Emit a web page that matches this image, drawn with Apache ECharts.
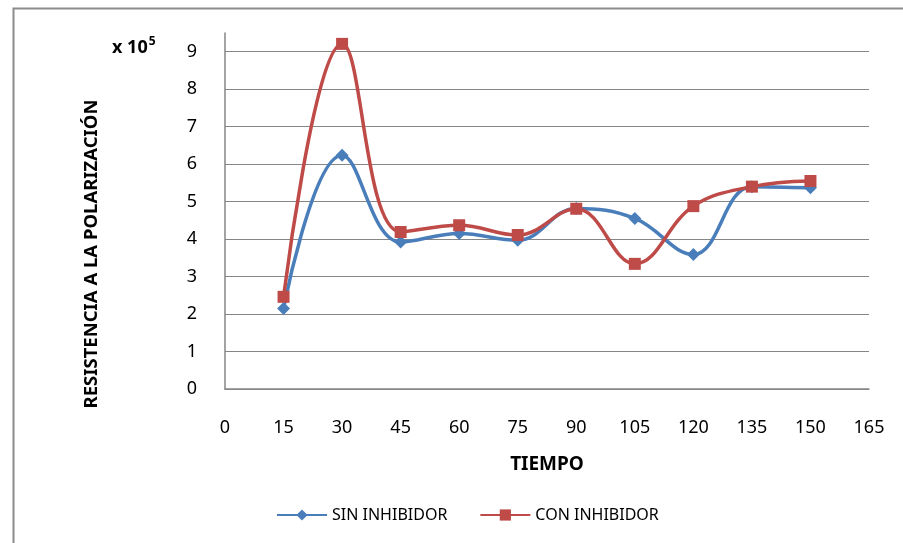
<!DOCTYPE html>
<html>
<head>
<meta charset="utf-8">
<script src="https://cdn.jsdelivr.net/npm/echarts@6/dist/echarts.min.js"></script>
<style>html,body{margin:0;padding:0;background:#fff;}#c{width:903px;height:543px;}</style>
</head>
<body>
<div id="c"></div>
<script>
const tiempo = [15, 30, 45, 60, 75, 90, 105, 120, 135, 150];
const sinInhibidor = [2.15, 6.24, 3.92, 4.15, 3.97, 4.82, 4.55, 3.59, 5.40, 5.37];
const conInhibidor = [2.46, 9.21, 4.19, 4.37, 4.11, 4.81, 3.34, 4.88, 5.40, 5.55];
const seriesNames = ['SIN INHIBIDOR', 'CON INHIBIDOR'];
const yTitle = 'RESISTENCIA A LA POLARIZACIÓN';
const xTitle = 'TIEMPO';

const font = 'Noto Sans';
const chart = echarts.init(document.getElementById('c'), null, {renderer: 'canvas'});
const pairs = arr => tiempo.map((t, i) => [t, arr[i]]);

chart.setOption({
  animation: false,
  backgroundColor: '#fff',
  textStyle: {fontFamily: font},
  grid: {left: 225, right: 34, top: 33, bottom: 154},
  xAxis: {
    type: 'value', min: 0, max: 165, interval: 15,
    axisLine: {show: true, lineStyle: {color: '#868686', width: 1.5}},
    axisTick: {show: false},
    splitLine: {show: false},
    axisLabel: {color: '#000', fontSize: 18, margin: 30, fontFamily: font},
    name: xTitle, nameLocation: 'middle', nameGap: 66,
    nameTextStyle: {color: '#000', fontSize: 19, fontWeight: 'bold', fontFamily: font}
  },
  yAxis: {
    type: 'value', min: 0, max: 9.5, interval: 1,
    axisLine: {show: true, lineStyle: {color: '#868686', width: 1.5}},
    axisTick: {show: false},
    splitLine: {show: true, showMaxLine: false, lineStyle: {color: '#868686', width: 1.2}},
    axisLabel: {color: '#000', fontSize: 18, margin: 28, fontFamily: font,
      formatter: v => (Number.isInteger(v) ? String(v) : '')}
  },
  legend: {
    data: seriesNames,
    left: 271, top: 502,
    itemWidth: 50, itemHeight: 14, itemGap: 32,
    textStyle: {color: '#000', fontSize: 16, fontFamily: font}
  },
  graphic: [
    {type: 'rect', left: 11, top: 6, shape: {width: 1000, height: 1000}, style: {fill: 'none', stroke: '#8c8c8c', lineWidth: 2}, z: -1},
    {type: 'text', left: 112, top: 36, style: {
      text: '{b|x 10}{s|5}', fill: '#000',
      rich: {b: {fontSize: 18, fontWeight: 'bold', fontFamily: font, verticalAlign: 'bottom'},
             s: {fontSize: 12, fontWeight: 'bold', fontFamily: font, verticalAlign: 'top', padding: [0, 0, 9, 1]}}
    }},
    {type: 'text', x: 92, y: 254, rotation: Math.PI / 2, style: {
      text: yTitle, fill: '#000', fontSize: 18.5, fontWeight: 'bold', fontFamily: font,
      align: 'center', verticalAlign: 'middle'
    }}
  ],
  series: [
    {
      name: seriesNames[0], type: 'line', data: pairs(sinInhibidor), smooth: 0.4,
      symbol: 'diamond', symbolSize: 13,
      lineStyle: {color: '#4A7EBB', width: 3.5},
      itemStyle: {color: '#4A7EBB'}
    },
    {
      name: seriesNames[1], type: 'line', data: pairs(conInhibidor), smooth: 0.4,
      symbol: 'rect', symbolSize: 12,
      lineStyle: {color: '#BE4B48', width: 3.5},
      itemStyle: {color: '#BE4B48'}
    }
  ]
});
</script>
</body>
</html>
